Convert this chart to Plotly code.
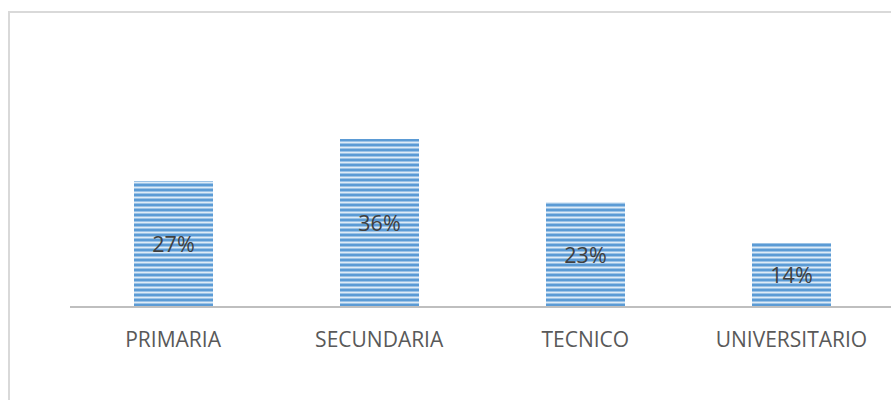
import plotly.graph_objects as go

categories = ["PRIMARIA", "SECUNDARIA", "TECNICO", "UNIVERSITARIO"]
values = [27.27, 36.36, 22.73, 13.64]
labels = ["27%", "36%", "23%", "14%"]

FONT = "Open Sans, Lato, sans-serif"

fig = go.Figure()
fig.add_trace(go.Bar(
    x=categories,
    y=values,
    text=labels,
    textposition="inside",
    insidetextanchor="middle",
    textfont=dict(family=FONT, size=21.5, color="#404040"),
    width=0.383,
    marker=dict(
        color="#5B9BD5",
        line=dict(width=0),
        pattern=dict(shape="-", bgcolor="#5B9BD5", fgcolor="#DDEBF7",
                     size=5, solidity=0.4, fillmode="replace"),
    ),
    hoverinfo="skip",
    cliponaxis=False,
))

W, H = 891, 400
L, R, T, B = 70, 0, 120, 94
pw, ph = W - L - R, H - T - B

fig.update_layout(
    width=W, height=H,
    margin=dict(l=L, r=R, t=T, b=B),
    paper_bgcolor="white",
    plot_bgcolor="white",
    showlegend=False,
    bargap=0,
    uniformtext=dict(minsize=8, mode="show"),
    xaxis=dict(
        range=[-0.5, 3.483],
        showline=True, linecolor="#BFBFBF", linewidth=2,
        showgrid=False, ticks="", zeroline=False,
        ticklabelstandoff=14,
        tickfont=dict(family=FONT, size=21, color="#595959"),
    ),
    yaxis=dict(
        range=[0, 40.5], visible=False, showgrid=False, zeroline=False,
    ),
    shapes=[dict(
        type="rect", xref="paper", yref="paper",
        x0=(9 - L) / pw, x1=(W + 20 - L) / pw,
        y0=(H - B - (H + 20)) / ph, y1=(H - B - 12) / ph,
        line=dict(color="#D9D9D9", width=2), fillcolor="rgba(0,0,0,0)",
        layer="below",
    )],
)

fig.write_html(
    "out.html",
    config={"displayModeBar": False},
    post_script="document.body.style.margin='0px';document.body.style.overflow='hidden';",
)
